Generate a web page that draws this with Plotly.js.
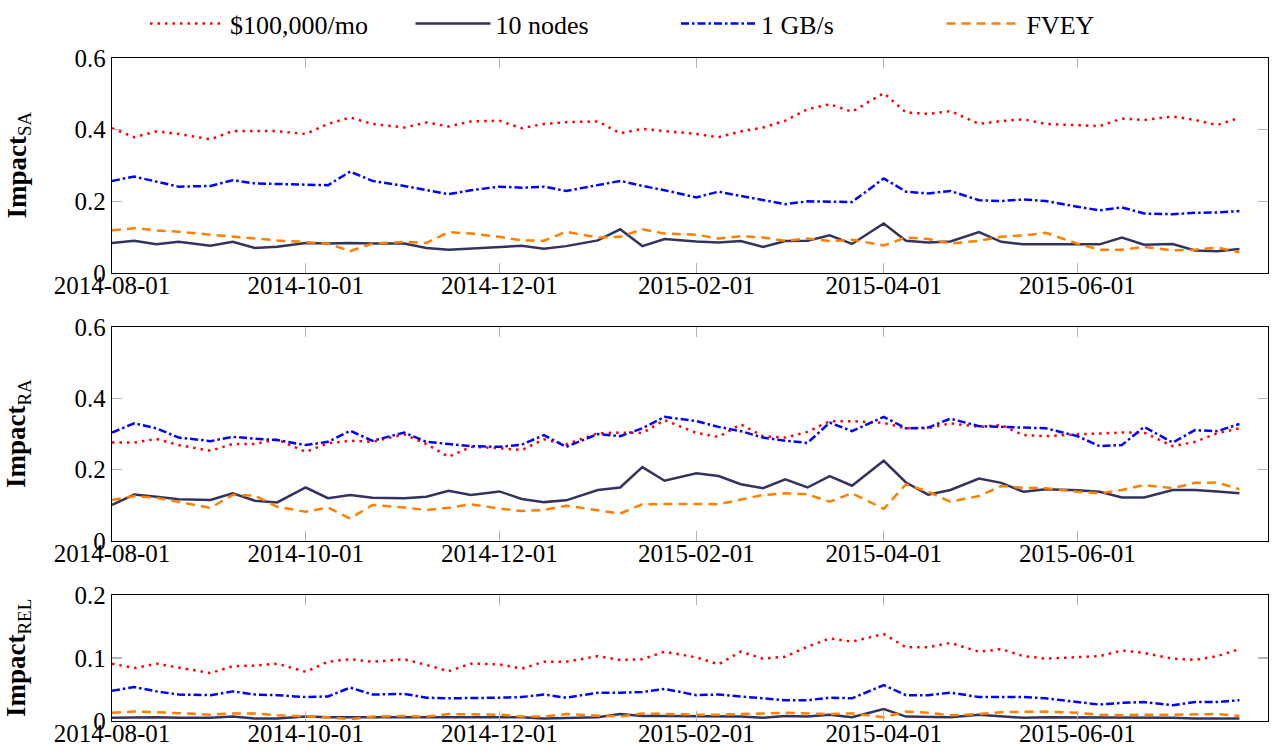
<!DOCTYPE html>
<html>
<head>
<meta charset="utf-8">
<script src="https://cdn.plot.ly/plotly-3.0.1.min.js"></script>
<style>html,body{margin:0;padding:0;background:#fff;}#chart{width:1280px;height:753px;}</style>
</head>
<body>
<div id="chart"></div>
<script>
// Sample dates (1st, 8th, 15th, 22nd of each month)
const dates = [
 '2014-08-01','2014-08-08','2014-08-15','2014-08-22',
 '2014-09-01','2014-09-08','2014-09-15','2014-09-22',
 '2014-10-01','2014-10-08','2014-10-15','2014-10-22',
 '2014-11-01','2014-11-08','2014-11-15','2014-11-22',
 '2014-12-01','2014-12-08','2014-12-15','2014-12-22',
 '2015-01-01','2015-01-08','2015-01-15','2015-01-22',
 '2015-02-01','2015-02-08','2015-02-15','2015-02-22',
 '2015-03-01','2015-03-08','2015-03-15','2015-03-22',
 '2015-04-01','2015-04-08','2015-04-15','2015-04-22',
 '2015-05-01','2015-05-08','2015-05-15','2015-05-22',
 '2015-06-01','2015-06-08','2015-06-15','2015-06-22',
 '2015-07-01','2015-07-08','2015-07-15','2015-07-22'];

const seriesNames = ['$100,000/mo', '10 nodes', '1 GB/s', 'FVEY'];

// Impact_SA
const saCost = [0.404,0.379,0.395,0.388, 0.373,0.396,0.396,0.396, 0.388,0.416,0.434,0.416, 0.406,0.420,0.409,0.423, 0.425,0.404,0.416,0.421, 0.423,0.390,0.402,0.397, 0.388,0.379,0.395,0.406, 0.425,0.457,0.471,0.450, 0.502,0.448,0.444,0.452, 0.416,0.424,0.429,0.416, 0.412,0.410,0.431,0.427, 0.437,0.427,0.413,0.433];
const saNodes = [0.084,0.090,0.080,0.087, 0.076,0.087,0.070,0.073, 0.084,0.082,0.084,0.082, 0.082,0.070,0.065,0.068, 0.072,0.076,0.068,0.075, 0.091,0.122,0.075,0.095, 0.088,0.085,0.089,0.073, 0.089,0.090,0.105,0.081, 0.138,0.090,0.085,0.088, 0.114,0.087,0.080,0.080, 0.080,0.080,0.099,0.079, 0.081,0.063,0.061,0.067];
const saBw = [0.257,0.269,0.255,0.241, 0.243,0.259,0.250,0.248, 0.245,0.245,0.283,0.257, 0.243,0.231,0.220,0.231, 0.241,0.238,0.241,0.229, 0.245,0.257,0.243,0.231, 0.211,0.227,0.215,0.203, 0.192,0.200,0.200,0.198, 0.264,0.227,0.222,0.229, 0.203,0.201,0.205,0.201, 0.185,0.175,0.183,0.166, 0.164,0.168,0.169,0.173];
const saFvey = [0.119,0.125,0.119,0.115, 0.107,0.101,0.096,0.091, 0.086,0.082,0.061,0.082, 0.087,0.084,0.114,0.110, 0.101,0.091,0.090,0.115, 0.099,0.101,0.122,0.110, 0.107,0.096,0.103,0.099, 0.090,0.096,0.089,0.093, 0.077,0.099,0.095,0.082, 0.090,0.101,0.105,0.112, 0.082,0.065,0.065,0.073, 0.063,0.065,0.071,0.058];

// Impact_RA
const raCost = [0.276,0.276,0.286,0.269, 0.253,0.272,0.272,0.285, 0.250,0.274,0.281,0.278, 0.299,0.272,0.236,0.264, 0.260,0.255,0.285,0.271, 0.302,0.304,0.303,0.339, 0.303,0.292,0.327,0.294, 0.290,0.306,0.336,0.336, 0.331,0.316,0.316,0.330, 0.320,0.325,0.297,0.294, 0.299,0.302,0.304,0.304, 0.266,0.278,0.302,0.316];
const raNodes = [0.101,0.130,0.124,0.117, 0.115,0.134,0.113,0.108, 0.150,0.120,0.129,0.121, 0.120,0.124,0.141,0.129, 0.139,0.118,0.109,0.114, 0.143,0.150,0.207,0.169, 0.190,0.182,0.159,0.148, 0.173,0.150,0.182,0.155, 0.225,0.164,0.130,0.143, 0.175,0.163,0.138,0.145, 0.142,0.138,0.122,0.122, 0.143,0.143,0.139,0.134];
const raBw = [0.304,0.330,0.316,0.290, 0.280,0.292,0.287,0.283, 0.269,0.278,0.309,0.281, 0.304,0.278,0.272,0.266, 0.264,0.270,0.297,0.264, 0.300,0.294,0.316,0.348, 0.336,0.320,0.308,0.290, 0.281,0.275,0.332,0.308, 0.348,0.316,0.318,0.343, 0.322,0.320,0.318,0.316, 0.294,0.266,0.269,0.320, 0.276,0.311,0.308,0.328];
const raFvey = [0.115,0.126,0.121,0.110, 0.093,0.129,0.127,0.096, 0.082,0.094,0.063,0.101, 0.094,0.087,0.093,0.103, 0.091,0.084,0.087,0.099, 0.087,0.077,0.103,0.104, 0.104,0.103,0.115,0.129, 0.134,0.131,0.110,0.134, 0.090,0.159,0.138,0.110, 0.126,0.154,0.149,0.148, 0.138,0.134,0.143,0.157, 0.148,0.163,0.164,0.145];

// Impact_REL
const relCost = [0.091,0.084,0.091,0.085, 0.076,0.087,0.088,0.091, 0.078,0.094,0.098,0.094, 0.098,0.089,0.079,0.091, 0.090,0.083,0.094,0.094, 0.103,0.097,0.098,0.110, 0.101,0.090,0.110,0.099, 0.102,0.118,0.131,0.126, 0.138,0.117,0.117,0.124, 0.110,0.114,0.103,0.099, 0.101,0.103,0.112,0.108, 0.099,0.097,0.103,0.114];
const relNodes = [0.005,0.006,0.006,0.005, 0.005,0.007,0.004,0.004, 0.007,0.006,0.006,0.006, 0.006,0.006,0.005,0.005, 0.006,0.006,0.004,0.005, 0.006,0.011,0.008,0.008, 0.008,0.008,0.007,0.005, 0.008,0.007,0.010,0.006, 0.019,0.007,0.006,0.006, 0.010,0.007,0.005,0.006, 0.006,0.006,0.006,0.005, 0.005,0.004,0.004,0.004];
const relBw = [0.048,0.054,0.047,0.042, 0.041,0.047,0.042,0.041, 0.038,0.039,0.053,0.042, 0.043,0.037,0.036,0.036, 0.037,0.038,0.042,0.037, 0.045,0.045,0.046,0.051, 0.041,0.042,0.039,0.037, 0.033,0.033,0.037,0.036, 0.057,0.041,0.041,0.045, 0.038,0.038,0.038,0.036, 0.030,0.026,0.029,0.030, 0.025,0.030,0.030,0.033];
const relFvey = [0.013,0.015,0.014,0.012, 0.010,0.012,0.012,0.009, 0.007,0.006,0.003,0.007, 0.008,0.007,0.011,0.011, 0.010,0.007,0.007,0.011, 0.009,0.007,0.012,0.011, 0.010,0.010,0.011,0.012, 0.013,0.012,0.011,0.012, 0.006,0.015,0.013,0.009, 0.011,0.014,0.014,0.015, 0.013,0.010,0.009,0.010, 0.010,0.010,0.011,0.008];

const xTickVals = ['2014-08-01','2014-10-01','2014-12-01','2015-02-01','2015-04-01','2015-06-01'];
const xTickText = ['2014-08-01','2014-10-01','2014-12-01','2015-02-01','2015-04-01','2015-06-01'];
const yTickVals = [0, 0.2, 0.4, 0.6];
const yTickText = ['0', '0.2', '0.4', '0.6'];
const yTickValsRel = [0, 0.1, 0.2];
const yTickTextRel = ['0', '0.1', '0.2'];
const yTitles = ['<b>Impact</b><sub>SA</sub>', '<b>Impact</b><sub>RA</sub>', '<b>Impact</b><sub>REL</sub>'];

const styles = [
  {color: '#ff0000', dash: '2.5px,5px'},
  {color: '#33335f', dash: 'solid'},
  {color: '#0000ff', dash: '8px,3px,2.5px,3px'},
  {color: '#ff8000', dash: '9px,6px'}
];

const panels = [
  {data: [saCost, saNodes, saBw, saFvey], xa: 'x', ya: 'y'},
  {data: [raCost, raNodes, raBw, raFvey], xa: 'x2', ya: 'y2'},
  {data: [relCost, relNodes, relBw, relFvey], xa: 'x3', ya: 'y3'}
];

const traces = [];
panels.forEach((p, pi) => {
  p.data.forEach((vals, si) => {
    traces.push({
      type: 'scatter', mode: 'lines', x: dates, y: vals,
      xaxis: p.xa, yaxis: p.ya,
      name: seriesNames[si], legendgroup: seriesNames[si],
      showlegend: pi === 0,
      line: {color: styles[si].color, dash: styles[si].dash, width: 2.5},
      hoverinfo: 'skip'
    });
  });
});

const W = 1280, H = 753;
const xDom = [112 / W, 1268 / W];
const yDoms = [[1 - 273 / H, 1 - 58 / H], [1 - 541 / H, 1 - 327 / H], [1 - 721 / H, 1 - 595 / H]];
const font = {family: 'Liberation Serif, Times New Roman, serif', color: '#000'};

function xAxis(anchor) {
  return {
    domain: xDom, anchor: anchor, type: 'date',
    range: ['2014-08-01', '2015-07-31'],
    tickmode: 'array', tickvals: xTickVals, ticktext: xTickText,
    ticks: 'inside', ticklen: 10, tickwidth: 1.5, tickcolor: '#b4b4b4',
    showline: true, linecolor: '#000', linewidth: 1.2, mirror: 'ticks',
    showgrid: false, zeroline: false, ticklabelstandoff: -10,
    tickfont: Object.assign({size: 25}, font), automargin: false
  };
}
function yAxis(anchor, dom, tv, tt, range) {
  return {
    domain: dom, anchor: anchor, range: range,
    tickmode: 'array', tickvals: tv, ticktext: tt,
    ticks: 'inside', ticklen: 10, tickwidth: 1.5, tickcolor: '#b4b4b4',
    showline: true, linecolor: '#000', linewidth: 1.2, mirror: 'ticks',
    showgrid: false, zeroline: false,
    tickfont: Object.assign({size: 25}, font), automargin: false
  };
}

const annotations = yTitles.map((t, i) => ({
  text: t, xref: 'paper', yref: 'paper', x: 18 / W, y: (yDoms[i][0] + yDoms[i][1]) / 2,
  xanchor: 'center', yanchor: 'middle', textangle: -90, showarrow: false,
  font: Object.assign({size: 27}, font)
}));

const layout = {
  width: W, height: H,
  margin: {l: 0, r: 0, t: 0, b: 0},
  paper_bgcolor: '#fff', plot_bgcolor: '#fff',
  font: font,
  showlegend: true,
  legend: {
    orientation: 'h', x: 145 / W, xanchor: 'left', y: 1, yanchor: 'top',
    entrywidth: 175.5, entrywidthmode: 'pixels', itemwidth: 75,
    font: Object.assign({size: 26}, font), bgcolor: 'rgba(0,0,0,0)', borderwidth: 0,
    tracegroupgap: 0
  },
  xaxis: xAxis('y'), xaxis2: xAxis('y2'), xaxis3: xAxis('y3'),
  yaxis: yAxis('x', yDoms[0], yTickVals, yTickText, [0, 0.6]),
  yaxis2: yAxis('x2', yDoms[1], yTickVals, yTickText, [0, 0.6]),
  yaxis3: yAxis('x3', yDoms[2], yTickValsRel, yTickTextRel, [0, 0.2]),
  annotations: annotations
};

Plotly.newPlot('chart', traces, layout, {displayModeBar: false, staticPlot: true});
</script>
</body>
</html>
